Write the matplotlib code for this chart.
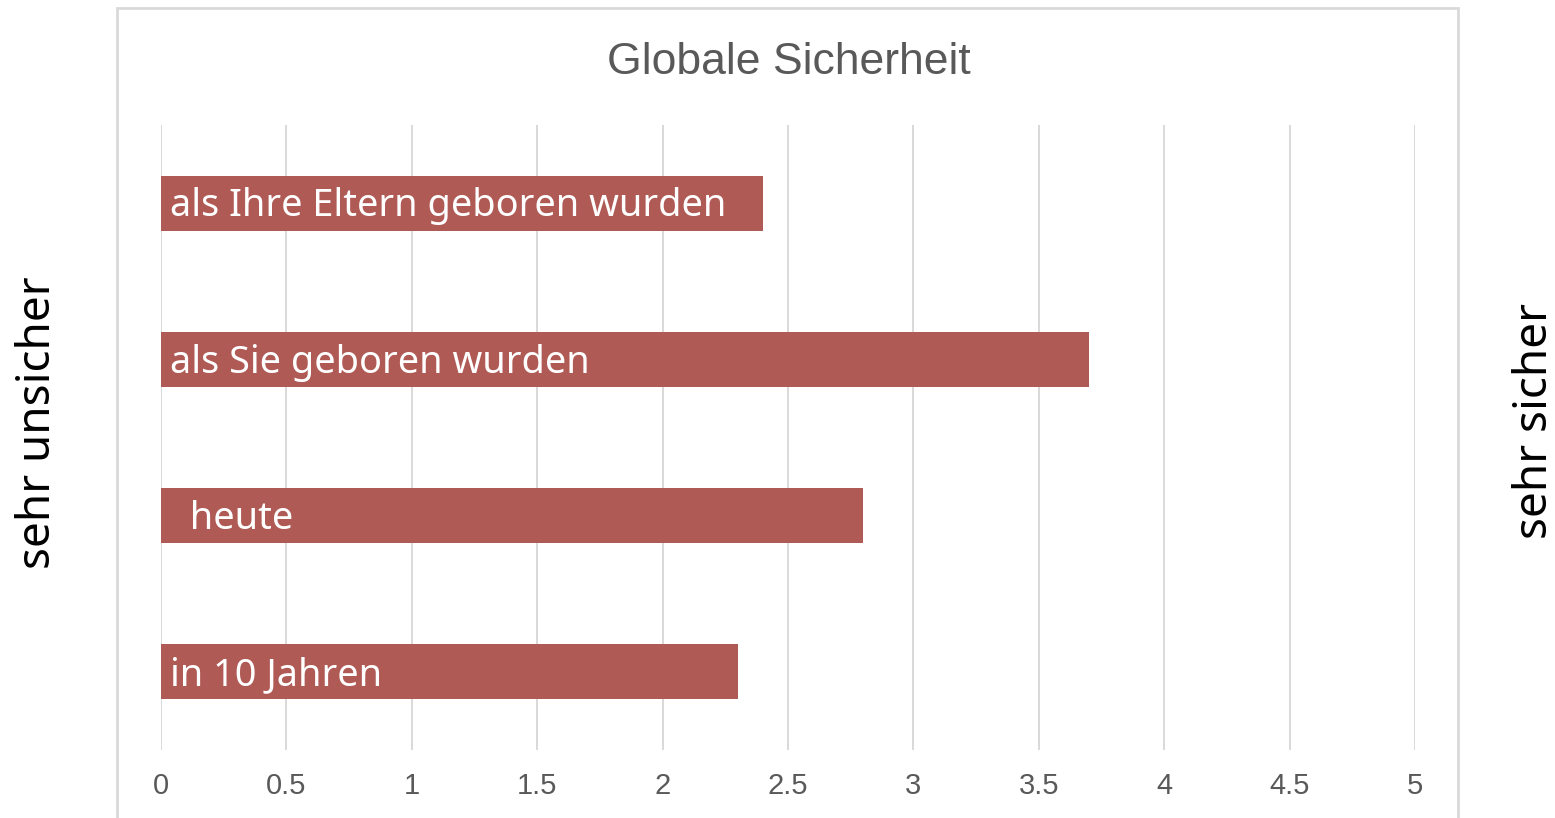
import matplotlib.pyplot as plt
from matplotlib.patches import Rectangle

categories = ['als Ihre Eltern geboren wurden', 'als Sie geboren wurden', '  heute', 'in 10 Jahren']
values = [2.4, 3.7, 2.8, 2.3]
xticks = [0, 0.5, 1, 1.5, 2, 2.5, 3, 3.5, 4, 4.5, 5]
xticklabels = ['0', '0.5', '1', '1.5', '2', '2.5', '3', '3.5', '4', '4.5', '5']

bar_color = '#B05A55'
grid_color = '#D9D9D9'
text_gray = '#595959'

fig = plt.figure(figsize=(15.55, 8.18), dpi=100)
ax = fig.add_axes([161 / 1555, 1 - 750 / 818, (1415 - 161) / 1555, (750 - 125) / 818])

ypos = list(range(len(categories)))
ax.barh(ypos, values, height=0.352, color=bar_color, zorder=2)
for y, lab in zip(ypos, categories):
    ax.text(0.035, y + 0.02, lab, color='white', fontsize=27.3, family='Noto Sans',
            va='center', ha='left', zorder=3)

ax.set_xlim(0, 5)
ax.set_ylim(3.5, -0.5)
ax.set_xticks(xticks)
ax.set_xticklabels(xticklabels, family='Liberation Sans', fontsize=21, color=text_gray)
ax.set_yticks([])
ax.tick_params(axis='x', length=0, pad=16)
for s in ax.spines.values():
    s.set_visible(False)
ax.grid(axis='x', color=grid_color, lw=1.4, zorder=0)
ax.set_axisbelow(True)

# outer chart frame
frame = Rectangle((117 / 1555, -0.05), (1458 - 117) / 1555, 1.05 - 8 / 818,
                  transform=fig.transFigure, fill=False, edgecolor=grid_color, lw=2)
fig.patches.append(frame)

fig.text(789 / 1555, 1 - 63 / 818, 'Globale Sicherheit', family='Liberation Sans',
         fontsize=32, color=text_gray, ha='center', va='center')
fig.text(38 / 1555, 1 - 423 / 818, 'sehr unsicher', family='Noto Sans', fontsize=33,
         rotation=90, ha='center', va='center')
fig.text(1535 / 1555, 1 - 421 / 818, 'sehr sicher', family='Noto Sans', fontsize=33,
         rotation=90, ha='center', va='center')

fig.savefig('out.png', dpi=100)
